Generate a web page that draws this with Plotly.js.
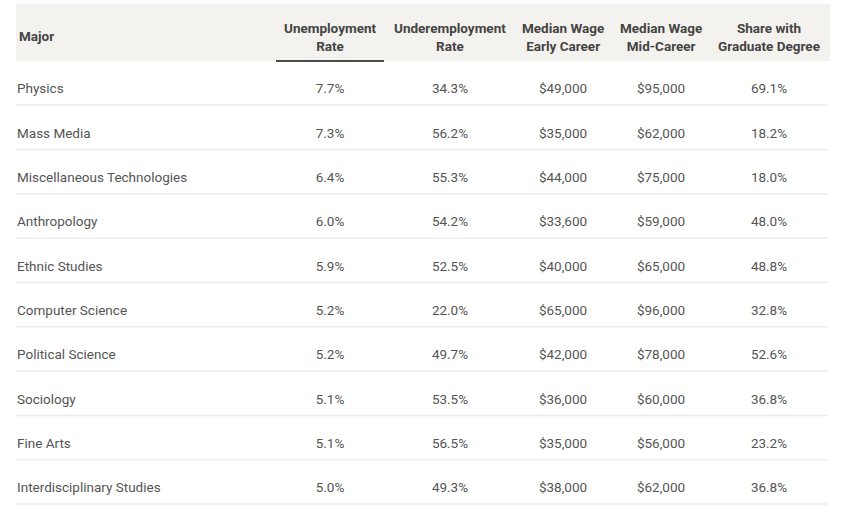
<!DOCTYPE html>
<html>
<head>
<meta charset="utf-8">
<script src="https://cdn.plot.ly/plotly-3.0.1.min.js"></script>
<style>html,body{margin:0;padding:0;background:#fff;}#chart{width:844px;height:517px;}</style>
</head>
<body>
<div id="chart"></div>
<script>
// ---- data ----
const majors = ["Physics","Mass Media","Miscellaneous Technologies","Anthropology","Ethnic Studies","Computer Science","Political Science","Sociology","Fine Arts","Interdisciplinary Studies"];
const unemployment = [7.7,7.3,6.4,6.0,5.9,5.2,5.2,5.1,5.1,5.0];
const underemployment = [34.3,56.2,55.3,54.2,52.5,22.0,49.7,53.5,56.5,49.3];
const wageEarly = [49000,35000,44000,33600,40000,65000,42000,36000,35000,38000];
const wageMid = [95000,62000,75000,59000,65000,96000,78000,60000,56000,62000];
const gradShare = [69.1,18.2,18.0,48.0,48.8,32.8,52.6,36.8,23.2,36.8];
const headers = ["Major","Unemployment<br>Rate","Underemployment<br>Rate","Median Wage<br>Early Career","Median Wage<br>Mid-Career","Share with<br>Graduate Degree"];

// ---- layout helpers (pixel geometry) ----
const W = 844, H = 517;
const colX = [17, 330, 450, 563, 661, 769];
const pct = v => v.toFixed(1) + "%";
const usd = v => "$" + v.toLocaleString("en-US");
const FONT = "Roboto, 'Open Sans', sans-serif";
const bodyFont = {family: FONT, size: 13.5, color: "#555"};

function col(i, texts, pos) {
  return {
    type: "scatter", mode: "text",
    x: majors.map(() => colX[i]), y: majors,
    text: texts, textposition: pos || "middle center",
    textfont: bodyFont, hoverinfo: "skip", showlegend: false, cliponaxis: false
  };
}

const traces = [
  col(0, majors, "middle right"),
  col(1, unemployment.map(pct)),
  col(2, underemployment.map(pct)),
  col(3, wageEarly.map(usd)),
  col(4, wageMid.map(usd)),
  col(5, gradShare.map(pct))
];

const py = p => 1 - p / H;
const shapes = [
  {type: "rect", xref: "x", yref: "paper", x0: 16, x1: 830, y0: py(61), y1: py(4), fillcolor: "#f4f2ee", line: {width: 0}, layer: "below"},
  {type: "line", xref: "x", yref: "paper", x0: 276, x1: 384, y0: py(61), y1: py(61), line: {color: "#111", width: 1.5}}
];
majors.forEach((m, i) => {
  shapes.push({type: "line", xref: "x", yref: "y", x0: 16, x1: 828, y0: i + 0.34, y1: i + 0.34, line: {color: "#ececec", width: 1.5}, layer: "below"});
});

const annotations = headers.map((h, i) => ({
  xref: "x", yref: "paper", x: colX[i], y: py(i === 0 ? 36 : 37),
  text: "<b>" + h + "</b>", showarrow: false,
  xanchor: i === 0 ? "left" : "center", yanchor: "middle",
  align: i === 0 ? "left" : "center",
  font: {family: FONT, size: 13.5, color: "#444"}
}));

const rowStep = 44.33, firstRow = 90;
const layout = {
  width: W, height: H,
  margin: {l: 0, r: 0, t: 0, b: 0},
  paper_bgcolor: "#fff", plot_bgcolor: "#fff",
  xaxis: {range: [0, W], visible: false, fixedrange: true},
  yaxis: {type: "category", categoryarray: majors, categoryorder: "array",
          range: [(H - firstRow) / rowStep, -firstRow / rowStep], visible: false, fixedrange: true},
  shapes: shapes, annotations: annotations
};

Plotly.newPlot("chart", traces, layout, {displayModeBar: false, staticPlot: true});
</script>
</body>
</html>
